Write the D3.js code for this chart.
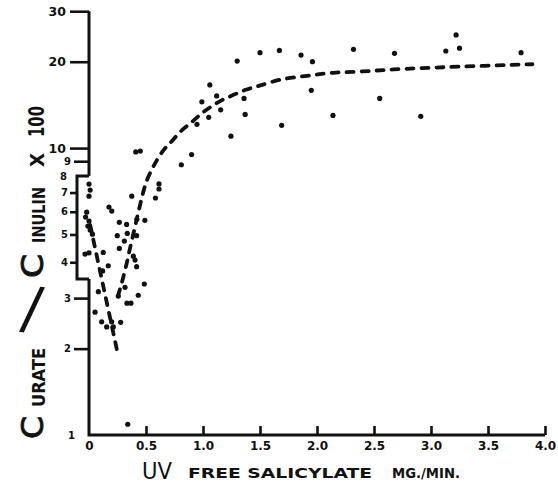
<!DOCTYPE html>
<html><head><meta charset="utf-8">
<script src="https://cdn.jsdelivr.net/npm/d3@7"></script>
<style>body{margin:0;background:#fff}svg{display:block}</style>
</head><body>
<svg id="c" width="558" height="490"></svg>
<script>
// ---- data ----
const pointX = [3.22,3.13,3.25,3.79,2.68,2.32,1.86,1.96,1.67,1.50,1.30,1.06,1.12,0.99,1.36,1.95,2.55,1.155,1.05,1.37,0.947,2.14,2.91,1.69,1.245,0.90,0.81,
  0.41,0.45,0.614,0.614,0.583,0.375,0.49,0.42,0.418,0.389,0.418,0.485,0.432,0.175,0.20,0.266,0.33,0.248,0.336,0.31,0.266,0.404,0.125,0.169,0.12,0.082,0.053,
  0.111,0.155,0.199,0.213,0.278,0.257,0.316,0.333,0.368,0.34,
  0.0,0.01,0.0,-0.02,-0.03,0.0,-0.01,0.01,0.03,0.0,-0.035];
const pointY = [24.8,21.8,22.3,21.5,21.4,22.1,21.1,20.0,21.9,21.5,20.1,16.6,15.2,14.5,14.9,15.9,14.9,13.6,12.8,13.1,12.1,13.0,12.9,12.0,11.0,9.5,8.75,
  9.7,9.76,7.5,7.2,6.7,6.8,5.6,5.65,4.95,4.2,3.86,3.36,3.07,6.23,6.03,5.51,5.42,4.95,5.04,4.74,4.47,4.07,4.33,3.89,3.73,3.16,2.68,
  2.48,2.38,2.48,2.38,2.47,3.05,3.27,2.88,2.88,1.09,
  7.49,7.14,6.8,5.98,5.75,5.57,5.35,5.18,5.01,4.31,4.27];
const fallX = [0.01, 0.245];
const fallY = [5.4, 1.98];
const riseX = [0.254,0.289,0.325,0.360,0.395,0.425,0.452,0.478,0.509,0.553,0.596,0.654,0.719,0.816,0.912,0.991,1.079,1.167,1.263,1.368,1.482,1.675,1.912,2.14,2.40,2.67,3.14,3.89];
const riseY = [3.05,3.41,3.88,4.48,5.14,5.80,6.43,7.08,7.74,8.45,9.08,9.84,10.49,11.55,12.42,13.24,14.01,14.70,15.30,15.93,16.44,17.3,17.86,18.3,18.5,18.8,19.15,19.6];
const xTicks = [0,0.5,1,1.5,2,2.5,3,3.5,4];
const yMajorTicks = [10,20,30];
const yMinorTicks = [2,3,9];
const yBracketTicks = [4,5,6,7];
const bracketRange = [3.5, 8];

const ink = "#111";
const svg = d3.select("#c");
const x = d3.scaleLinear().domain([0,4]).range([89,545]);
const y = d3.scaleLog().domain([1,30]).range([435,11.2]);

// axis lines
const axisLines = svg.append("g").attr("stroke", ink).attr("stroke-width", 3).attr("fill","none");
axisLines.append("path").attr("d", `M${x(0)},${y(30)}V${y(bracketRange[1])}`);
axisLines.append("path").attr("d", `M${x(0)},${y(bracketRange[0])}V${y(1)}H${x(4)}`);
axisLines.append("path").attr("d", `M${x(0)},${y(bracketRange[1])}H${x(0)-12}V${y(bracketRange[0])}H${x(0)}`);

function styleAxis(g, fs){
  g.select(".domain").remove();
  g.selectAll("line").attr("stroke", ink).attr("stroke-width", 2.6);
  g.selectAll("text").attr("fill", ink).attr("font-family","DejaVu Sans, sans-serif").attr("font-weight","bold").attr("font-size", fs);
}
svg.append("g").attr("transform",`translate(${x(0)},0)`)
  .call(d3.axisLeft(y).tickValues(yMajorTicks).tickSize(19).tickPadding(4).tickFormat(d3.format("d")))
  .call(g=>styleAxis(g,12.5));
svg.append("g").attr("transform",`translate(${x(0)},0)`)
  .call(d3.axisLeft(y).tickValues(yMinorTicks).tickSize(15).tickPadding(3).tickFormat(d3.format("d")))
  .call(g=>styleAxis(g,10));
svg.append("g").attr("transform",`translate(${x(0)-12},0)`)
  .call(d3.axisLeft(y).tickValues(yBracketTicks).tickSize(7).tickPadding(2).tickFormat(d3.format("d")))
  .call(g=>styleAxis(g,10));
svg.append("g").attr("transform",`translate(${x(0)-12},0)`)
  .call(d3.axisLeft(y).tickValues([8]).tickSize(0).tickPadding(10).tickFormat(d3.format("d")))
  .call(g=>styleAxis(g,10));
svg.append("g").attr("transform",`translate(${x(0)},0)`)
  .call(d3.axisLeft(y).tickValues([1]).tickSize(0).tickPadding(14).tickFormat(d3.format("d")))
  .call(g=>styleAxis(g,10));
svg.append("g").attr("transform",`translate(0,${y(1)})`)
  .call(d3.axisBottom(x).tickValues(xTicks).tickSize(-9).tickPadding(6).tickFormat(d=>d===0?"0":d.toFixed(1)))
  .call(g=>styleAxis(g,12))
  .call(g=>g.selectAll(".tick").filter(d=>d===0).select("line").remove());

// curves
const line = d3.line().x(d=>x(d[0])).y(d=>y(d[1]));
svg.append("path").datum(fallX.map((v,i)=>[v,fallY[i]]))
  .attr("d", line).attr("fill","none").attr("stroke",ink).attr("stroke-width",3.8)
  .attr("stroke-dasharray","7,8").attr("stroke-linecap","round");
svg.append("path").datum(riseX.map((v,i)=>[v,riseY[i]]))
  .attr("d", d3.line().x(d=>x(d[0])).y(d=>y(d[1])).curve(d3.curveCatmullRom)).attr("fill","none").attr("stroke",ink).attr("stroke-width",3.8)
  .attr("stroke-dasharray","7,8").attr("stroke-linecap","round");

// points
svg.append("g").selectAll("circle").data(pointX.map((v,i)=>[v,pointY[i]])).join("circle")
  .attr("cx",d=>x(d[0])).attr("cy",d=>y(d[1])).attr("r",2.6).attr("fill",ink);

// x title
const xt = svg.append("g").attr("fill",ink);
xt.append("text").attr("x",142).attr("y",479).attr("font-family","DejaVu Sans, sans-serif").attr("font-size",23)
  .attr("textLength",30).attr("lengthAdjust","spacingAndGlyphs").text("UV");
xt.append("text").attr("x",188).attr("y",478).attr("font-family","DejaVu Sans, sans-serif").attr("font-weight","bold").attr("font-size",14.5)
  .attr("textLength",184).attr("lengthAdjust","spacingAndGlyphs").text("FREE SALICYLATE");
xt.append("text").attr("x",392).attr("y",478).attr("font-family","DejaVu Sans, sans-serif").attr("font-weight","bold").attr("font-size",14.5)
  .attr("textLength",68).attr("lengthAdjust","spacingAndGlyphs").text("MG./MIN.");

// y title (pieces rotated)
function ytext(str, yStart, len, bx, fs, bold){
  return svg.append("text").attr("transform",`translate(${bx},${yStart}) rotate(-90)`)
    .attr("fill",ink).attr("font-family","DejaVu Sans, sans-serif").attr("font-size",fs)
    .attr("font-weight", bold?"bold":"normal").attr("textLength",len).attr("lengthAdjust","spacingAndGlyphs").text(str);
}
ytext("C", 439, 23, 43, 31, false).attr("stroke",ink).attr("stroke-width",0.9);
ytext("URATE", 407, 59, 45, 17, true);
svg.append("text").attr("transform","translate(32,310) rotate(8)").attr("text-anchor","middle").attr("y",18)
  .attr("fill",ink).attr("font-family","DejaVu Sans, sans-serif").attr("font-size",58).text("/");
ytext("C", 278, 24, 43, 31, false).attr("stroke",ink).attr("stroke-width",0.9);
ytext("INULIN", 243, 56, 45, 17, true);
ytext("X", 167, 14, 44, 20, true);
ytext("100", 137, 31, 44, 21, true);
</script>
</body></html>
